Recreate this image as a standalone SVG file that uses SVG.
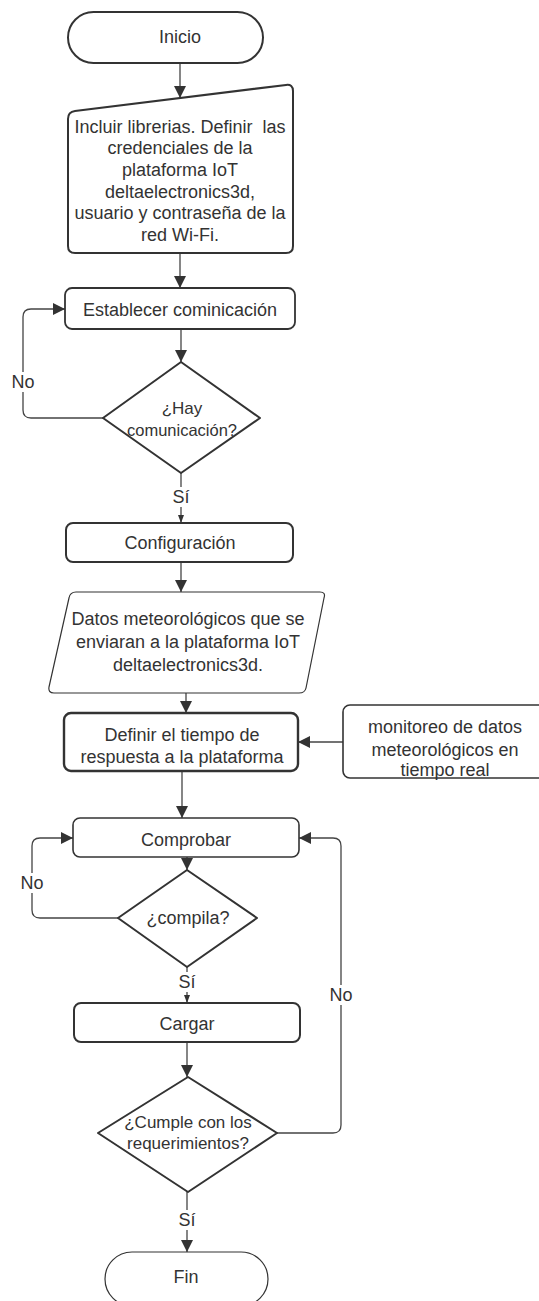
<svg xmlns="http://www.w3.org/2000/svg" width="539" height="1301" viewBox="0 0 539 1301">
  <defs>
    <style>
      .txt { font-family: "Liberation Sans", Arial, sans-serif; font-size: 18px; fill: #333; text-anchor: middle; white-space: pre; }
      .shape { fill: #fff; stroke: #333; stroke-linejoin: round; }
      .edge { fill: none; stroke: #444; stroke-width: 1.3; }
      .lbl-bg { fill: #fff; }
    </style>
    <marker id="arrow" markerUnits="userSpaceOnUse" markerWidth="12" markerHeight="14" viewBox="0 0 12 14" refX="12" refY="7" orient="auto">
      <path d="M0,1 L12,7 L0,13 Z" fill="#333"/>
    </marker>
    <marker id="arrow-sm" markerUnits="userSpaceOnUse" markerWidth="8" markerHeight="8" viewBox="0 0 8 8" refX="8" refY="4" orient="auto">
      <path d="M0,1 L8,4 L0,7 Z" fill="#333"/>
    </marker>
  </defs>
  <rect width="539" height="1301" fill="#fff"/>

  <!-- connectors -->
  <g id="connectors">
    <path class="edge" d="M180,63 V98" marker-end="url(#arrow)"/>
    <path class="edge" d="M180,253 V288" marker-end="url(#arrow)"/>
    <path class="edge" d="M181,329 V362" marker-end="url(#arrow)"/>
    <path class="edge" d="M103,418 H31 Q23,418 23,410 V317 Q23,309 31,309 H65" marker-end="url(#arrow)"/>
    <path class="edge" d="M181,473 V523" marker-end="url(#arrow-sm)"/>
    <path class="edge" d="M181,562 V592" marker-end="url(#arrow)"/>
    <path class="edge" d="M186,693 V713" marker-end="url(#arrow)"/>
    <path class="edge" d="M343,742 H298" marker-end="url(#arrow)"/>
    <path class="edge" d="M182,771 V818" marker-end="url(#arrow)"/>
    <path class="edge" d="M187,857 V870" marker-end="url(#arrow)"/>
    <path class="edge" d="M118,918 H40 Q32,918 32,910 V846 Q32,838 40,838 H73" marker-end="url(#arrow)"/>
    <path class="edge" d="M187,967 V1003" marker-end="url(#arrow-sm)"/>
    <path class="edge" d="M187,1042 V1077" marker-end="url(#arrow)"/>
    <path class="edge" d="M277,1133 H333 Q341,1133 341,1125 V846 Q341,838 333,838 H299" marker-end="url(#arrow)"/>
    <path class="edge" d="M187,1192 V1252" marker-end="url(#arrow)"/>

    <!-- branch labels -->
    <rect class="lbl-bg" x="10" y="372" width="26" height="20"/>
    <text class="txt" x="23" y="388">No</text>
    <rect class="lbl-bg" x="170" y="487" width="22" height="20"/>
    <text class="txt" x="181" y="503">Sí</text>
    <rect class="lbl-bg" x="19" y="873" width="26" height="20"/>
    <text class="txt" x="32" y="889">No</text>
    <rect class="lbl-bg" x="176" y="972" width="22" height="20"/>
    <text class="txt" x="187" y="988">Sí</text>
    <rect class="lbl-bg" x="328" y="985" width="26" height="20"/>
    <text class="txt" x="341" y="1001">No</text>
    <rect class="lbl-bg" x="176" y="1210" width="22" height="20"/>
    <text class="txt" x="187" y="1226">Sí</text>
  </g>

  <g id="inicio">
    <rect class="shape" x="68" y="12" width="195" height="51" rx="25.5" stroke-width="2"/>
    <text class="txt" x="180" y="43">Inicio</text>
  </g>

  <g id="incluir">
    <path class="shape" stroke-width="2" d="M68,119 Q68,112 75,111.1 L286,84.9 Q293,84 293,91 L293,246 Q293,253 286,253 L75,253 Q68,253 68,246 Z"/>
    <text class="txt" x="180" y="133" xml:space="preserve">Incluir librerias. Definir  las</text>
    <text class="txt" x="180" y="154">credenciales de la</text>
    <text class="txt" x="180" y="176">plataforma IoT</text>
    <text class="txt" x="180" y="198">deltaelectronics3d,</text>
    <text class="txt" x="180" y="219">usuario y contraseña de la</text>
    <text class="txt" x="180" y="241">red Wi-Fi.</text>
  </g>

  <g id="establecer">
    <rect class="shape" x="65" y="288" width="230" height="41" rx="7" stroke-width="1.8"/>
    <text class="txt" x="180" y="316">Establecer cominicación</text>
  </g>

  <g id="hay-comunicacion">
    <path class="shape" stroke-width="2" d="M181,362 L260,418 L181,473 L103,418 Z"/>
    <text class="txt" x="182" y="414" style="font-size:17px">¿Hay</text>
    <text class="txt" x="182" y="436" style="font-size:16.5px">comunicación?</text>
  </g>

  <g id="configuracion">
    <rect class="shape" x="66" y="523" width="227" height="39" rx="7" stroke-width="2"/>
    <text class="txt" x="180" y="549">Configuración</text>
  </g>

  <g id="datos">
    <path class="shape" stroke="#555" stroke-width="1.2" d="M76,592 L320,592 Q326,592 324,598 L306,688 Q305,693 299,693 L54,693 Q48,693 49,687 L69,598 Q70,592 76,592 Z"/>
    <text class="txt" x="188" y="625">Datos meteorológicos que se</text>
    <text class="txt" x="188" y="648">enviaran a la plataforma IoT</text>
    <text class="txt" x="188" y="671">deltaelectronics3d.</text>
  </g>

  <g id="definir">
    <rect class="shape" x="64" y="713" width="234" height="58" rx="7" stroke-width="2.4"/>
    <text class="txt" x="182" y="741">Definir el tiempo de</text>
    <text class="txt" x="182" y="763">respuesta a la plataforma</text>
  </g>

  <g id="monitoreo">
    <rect class="shape" x="343" y="705" width="210" height="73" rx="7" stroke-width="1.6"/>
    <text class="txt" x="445" y="733">monitoreo de datos</text>
    <text class="txt" x="445" y="756">meteorológicos en</text>
    <text class="txt" x="445" y="776">tiempo real</text>
  </g>

  <g id="comprobar">
    <rect class="shape" x="73" y="818" width="226" height="39" rx="7" stroke-width="1.6"/>
    <text class="txt" x="186" y="846">Comprobar</text>
  </g>

  <g id="compila">
    <path class="shape" stroke-width="2" d="M187,870 L257,918 L187,967 L118,918 Z"/>
    <text class="txt" x="188" y="924">¿compila?</text>
  </g>

  <g id="cargar">
    <rect class="shape" x="74" y="1003" width="226" height="39" rx="7" stroke-width="2"/>
    <text class="txt" x="187" y="1030">Cargar</text>
  </g>

  <g id="cumple">
    <path class="shape" stroke-width="2" d="M188,1077 L277,1133 L188,1192 L98,1133 Z"/>
    <text class="txt" x="188" y="1128" style="font-size:17px">¿Cumple con los</text>
    <text class="txt" x="188" y="1149" style="font-size:17px">requerimientos?</text>
  </g>

  <g id="fin">
    <rect class="shape" x="105" y="1252" width="163" height="54" rx="27" stroke="#555" stroke-width="1.2"/>
    <text class="txt" x="186" y="1283">Fin</text>
  </g>
</svg>
